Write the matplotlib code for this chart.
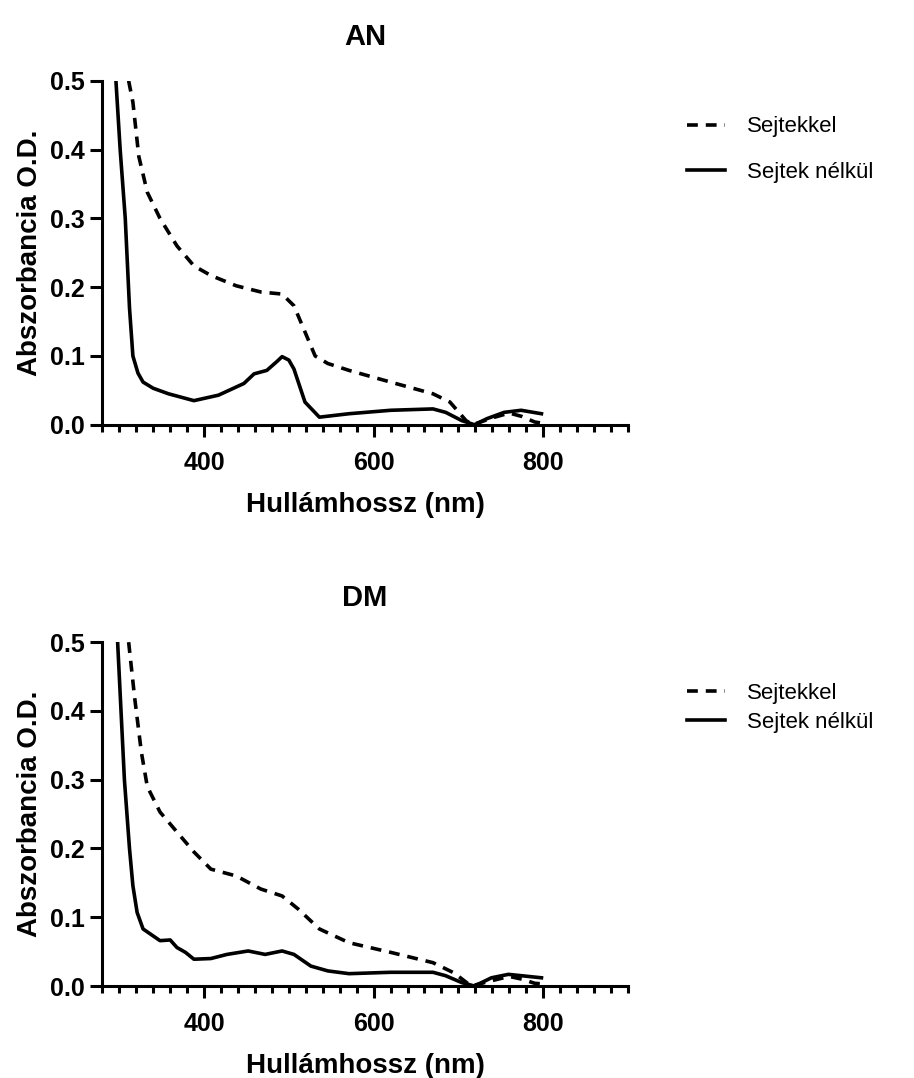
import matplotlib
matplotlib.use("Agg")
import matplotlib.pyplot as plt
from matplotlib.ticker import MultipleLocator

plt.rcParams['font.family'] = ['Liberation Sans', 'DejaVu Sans']

# AN panel
an_with_x = [311, 316, 323, 333, 348, 368, 388, 408, 438, 467, 492, 506, 519, 531, 546, 571, 620, 670, 690, 709, 717, 740, 760, 775, 790, 800]
an_with_y = [0.50, 0.469, 0.39, 0.338, 0.30, 0.26, 0.231, 0.217, 0.202, 0.193, 0.19, 0.173, 0.135, 0.10, 0.089, 0.079, 0.062, 0.045, 0.033, 0.006, 0.0, 0.010, 0.017, 0.012, 0.004, 0.002]
an_without_x = [296, 301, 307, 312, 316, 322, 328, 340, 358, 388, 417, 447, 459, 474, 486, 492, 500, 506, 519, 536, 571, 620, 670, 685, 704, 719, 734, 754, 774, 798]
an_without_y = [0.50, 0.40, 0.30, 0.17, 0.10, 0.075, 0.062, 0.053, 0.045, 0.035, 0.043, 0.06, 0.074, 0.079, 0.092, 0.099, 0.094, 0.081, 0.033, 0.011, 0.016, 0.021, 0.023, 0.018, 0.006, 0.0, 0.009, 0.018, 0.021, 0.016]

# DM panel
dm_with_x = [311, 318, 326, 333, 348, 368, 388, 408, 438, 467, 492, 511, 536, 571, 620, 670, 695, 715, 740, 760, 775, 790, 800]
dm_with_y = [0.50, 0.42, 0.34, 0.29, 0.253, 0.224, 0.195, 0.17, 0.16, 0.141, 0.131, 0.112, 0.083, 0.063, 0.049, 0.034, 0.019, 0.0, 0.008, 0.014, 0.010, 0.004, 0.003]
dm_without_x = [298, 306, 312, 316, 321, 328, 348, 360, 368, 378, 388, 408, 427, 452, 472, 492, 506, 526, 546, 571, 620, 670, 685, 704, 719, 739, 759, 798]
dm_without_y = [0.50, 0.30, 0.20, 0.146, 0.107, 0.083, 0.066, 0.067, 0.056, 0.049, 0.039, 0.04, 0.046, 0.051, 0.046, 0.051, 0.046, 0.029, 0.022, 0.018, 0.02, 0.02, 0.015, 0.005, 0.0, 0.012, 0.017, 0.012]

titles = ["AN", "DM"]
series_labels = ["Sejtekkel", "Sejtek nélkül"]
xlabel = "Hullámhossz (nm)"
ylabel = "Abszorbancia O.D."
xticks = [400, 600, 800]
yticks = [0.0, 0.1, 0.2, 0.3, 0.4, 0.5]

fig = plt.figure(figsize=(9.14, 10.78), dpi=100)
ax1 = fig.add_axes([0.112, 0.606, 0.575, 0.319])
ax2 = fig.add_axes([0.112, 0.0853, 0.575, 0.319])

panels = [
    (ax1, an_with_x, an_with_y, an_without_x, an_without_y, 1.1, 0.955),
    (ax2, dm_with_x, dm_with_y, dm_without_x, dm_without_y, 0.35, 0.94),
]

for i, (ax, wx, wy, nx, ny, lspace, ly) in enumerate(panels):
    ax.plot(wx, wy, color='black', lw=2.6, ls=(0, (3, 2.2)), label=series_labels[0])
    ax.plot(nx, ny, color='black', lw=2.6, ls='-', label=series_labels[1])
    ax.set_xlim(280, 900)
    ax.set_ylim(0, 0.5)
    ax.set_xticks(xticks)
    ax.xaxis.set_minor_locator(MultipleLocator(20))
    ax.set_yticks(yticks)
    ax.set_yticklabels([f"{v:.1f}" for v in yticks])
    for s in ['top', 'right']:
        ax.spines[s].set_visible(False)
    for s in ['left', 'bottom']:
        ax.spines[s].set_linewidth(2.2)
    ax.tick_params(axis='both', which='major', direction='out', length=8.5, width=2.2,
                   labelsize=18, pad=4)
    ax.tick_params(axis='x', which='major', pad=10.5)
    ax.tick_params(axis='x', which='minor', direction='out', length=5, width=2.2)
    for lab in ax.get_xticklabels() + ax.get_yticklabels():
        lab.set_fontweight('bold')
    ax.set_xlabel(xlabel, fontsize=20, fontweight='bold', labelpad=12)
    ax.set_ylabel(ylabel, fontsize=20, fontweight='bold', labelpad=5)
    ax.set_title(titles[i], fontsize=21, fontweight='bold', pad=26)
    ax.legend(loc='upper left', bbox_to_anchor=(1.075, ly), frameon=False,
              fontsize=16, handlelength=1.7, handletextpad=1.0, labelspacing=lspace)

fig.savefig("out.png", dpi=100)
